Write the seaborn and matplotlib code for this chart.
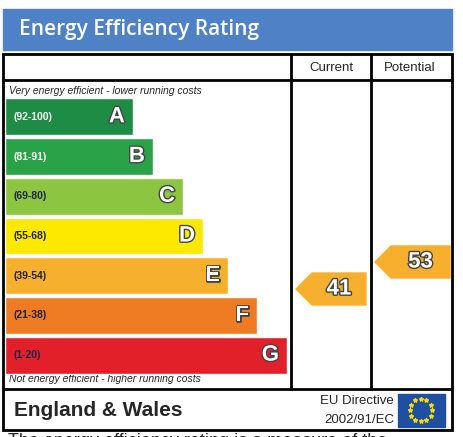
import matplotlib
matplotlib.use("Agg")
import matplotlib.pyplot as plt
import matplotlib.patheffects as pe
import seaborn as sns
import pandas as pd
import numpy as np
from matplotlib.patches import Rectangle, Polygon

bands = ["A", "B", "C", "D", "E", "F", "G"]
ranges = ["(92-100)", "(81-91)", "(69-80)", "(55-68)", "(39-54)", "(21-38)", "(1-20)"]
band_len = [128, 148, 178, 198, 223, 252, 282]
band_colors = ["#1e8c45", "#2aa348", "#8cc540", "#fde900", "#f6b02e", "#ef7b22", "#e2202a"]
current_val = 41
potential_val = 53

sns.set_style("white")
fig = plt.figure(figsize=(4.64, 4.37), dpi=100)
W, H = 464, 437
ax = fig.add_axes([0, 0, 1, 1])
ax.set_xlim(0, W)
ax.set_ylim(H, 0)
ax.axis("off")
outline = [pe.withStroke(linewidth=2, foreground="#444444")]

# header
ax.add_patch(Rectangle((3, 9), 449, 41, color="#4f81c7"))
ax.text(19, 29, "Energy Efficiency Rating", color="white", fontsize=15, va="center",
        fontweight="semibold", family="Open Sans")
# table frame
ax.add_patch(Rectangle((3, 54), 449, 376, fill=False, lw=2, ec="black"))
ax.plot([3, 452], [80, 80], color="black", lw=2)
ax.plot([3, 452], [389, 389], color="black", lw=2)
for x in (291, 371):
    ax.plot([x, x], [54, 389], color="black", lw=2)
ax.text(331, 68, "Current", ha="center", va="center", fontsize=9.5, family="Liberation Sans")
ax.text(410, 68, "Potential", ha="center", va="center", fontsize=9.5, family="Liberation Sans")
ax.text(9, 91, "Very energy efficient - lower running costs", fontsize=7.5, style="italic",
        va="center", family="Liberation Sans")
ax.text(9, 379, "Not energy efficient - higher running costs", fontsize=7.5, style="italic",
        va="center", family="Liberation Sans")

# bands
bx = fig.add_axes([5 / W, 1 - 375 / H, 285 / W, 278 / H])
df = pd.DataFrame({"band": bands, "len": band_len})
sns.barplot(data=df, x="len", y="band", hue="band", palette=band_colors, orient="h",
            width=0.93, legend=False, ax=bx, saturation=1)
bx.set_xlim(0, 285)
bx.axis("off")
for i, (b, r, l) in enumerate(zip(bands, ranges, band_len)):
    bx.text(9, i, r, va="center", fontsize=7.5, fontweight="bold", family="Liberation Sans",
            color="white" if b in "AB" else "#222244")
    bx.text(l - 8, i, b, va="center", ha="right", fontsize=16, fontweight="bold",
            color="white", family="Liberation Sans", path_effects=outline)

# rating arrows
def arrow(x0, x1, yc, h, val):
    pts = [(x0, yc), (x0 + 16, yc - h / 2), (x1, yc - h / 2), (x1, yc + h / 2), (x0 + 16, yc + h / 2)]
    ax.add_patch(Polygon(pts, color="#f6b02e"))
    ax.text((x0 + x1) / 2 + 8, yc, str(val), ha="center", va="center", fontsize=16,
            fontweight="bold", color="white", family="Liberation Sans", path_effects=outline)

arrow(296, 366, 289, 32, current_val)
arrow(375, 450, 262, 32, potential_val)

# footer
ax.text(14, 410, "England & Wales", fontsize=15, fontweight="bold", va="center",
        family="Liberation Sans")
ax.text(394, 401, "EU Directive", fontsize=9.5, ha="right", va="center", family="Liberation Sans")
ax.text(394, 420, "2002/91/EC", fontsize=9.5, ha="right", va="center", family="Liberation Sans")
ax.add_patch(Rectangle((398, 394), 47, 33, color="#1f4fa0"))
ang = np.linspace(0, 2 * np.pi, 13)[:-1]
ax.scatter(421 + 11 * np.cos(ang), 410 + 11 * np.sin(ang), marker="*", s=8, color="#ffdd00")
ax.text(8, 442, "The energy efficiency rating is a measure of the", fontsize=13,
        va="center", family="Liberation Sans")

fig.savefig("out.png", dpi=100)
